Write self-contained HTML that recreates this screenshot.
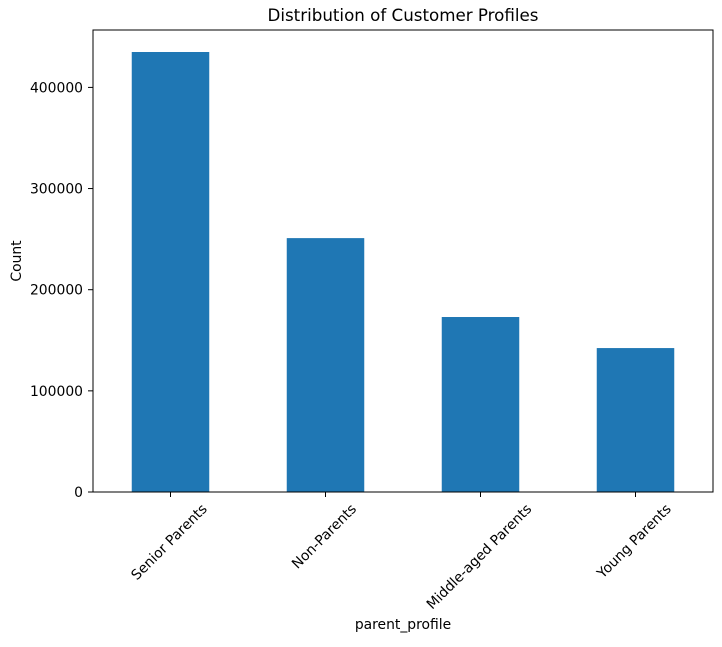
<!DOCTYPE html>
<html><head><meta charset="utf-8"><style>
body{margin:0;background:#fff;}
svg text{font-family:"DejaVu Sans","Liberation Sans",sans-serif;fill:#000;}
</style></head><body>
<svg id="chart" width="722" height="642" xmlns="http://www.w3.org/2000/svg">
<rect width="722" height="642" fill="#fff"/>
<text x="403" y="21" font-size="16.7" text-anchor="middle">Distribution of Customer Profiles</text>
<text x="403" y="629" font-size="13.9" text-anchor="middle">parent_profile</text>
<text transform="translate(21,261) rotate(-90)" font-size="13.9" text-anchor="middle">Count</text>
<g id="bars"></g><g id="yticks"></g><g id="xticks"></g>
<rect x="93" y="30" width="620" height="462" fill="none" stroke="#000" stroke-width="1"/>
</svg>
<script>
const categories=["Senior Parents","Non-Parents","Middle-aged Parents","Young Parents"];
const counts=[435000,251000,173000,142300];
const yTicks=[0,100000,200000,300000,400000];
const L=93,R=713,T=30,B=492,yMax=456750;
const ns="http://www.w3.org/2000/svg";
const y=v=>B-(v/yMax)*(B-T);
const step=(R-L)/categories.length;
const x=i=>L+step*(i+0.5);
const bw=step*0.5;
function mk(t,a,p){const e=document.createElementNS(ns,t);for(const k in a)e.setAttribute(k,a[k]);p.appendChild(e);return e;}
const bars=document.getElementById('bars'),yt=document.getElementById('yticks'),xt=document.getElementById('xticks');
counts.forEach((v,i)=>{
 const r=mk('rect',{x:x(i)-bw/2,y:y(v),width:bw,height:B-y(v),fill:'#1f77b4'},bars);
 
 
});
yTicks.forEach(v=>{
 const l=mk('line',{x1:L-5,x2:L,y1:y(v),y2:y(v),stroke:'#000'},yt);
 
 
 const t=mk('text',{x:L-10,y:y(v)+5,'font-size':'13.9','text-anchor':'end'},yt);
 t.textContent=String(v);
 
 
});
categories.forEach((c,i)=>{
 const l=mk('line',{x1:x(i),x2:x(i),y1:B,y2:B+5,stroke:'#000'},xt);
 
 
 const t=mk('text',{'font-size':'13.9','text-anchor':'middle','dominant-baseline':'central'},xt);
 t.textContent=c;
 
 
 const w=t.getComputedTextLength();
 const cy=B+10+(w*0.7071+14*0.7071)/2;
 t.setAttribute('transform',`translate(${x(i)-1},${cy}) rotate(-45)`);
});
</script>
</body></html>
